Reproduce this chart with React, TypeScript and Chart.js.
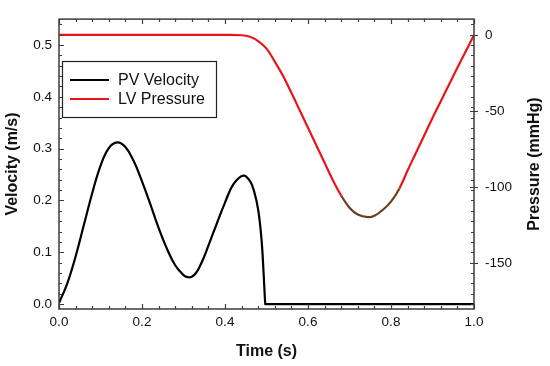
import React, { useEffect, useRef } from "react";
import { Chart, registerables } from "chart.js";

Chart.register(...registerables);

const timeV = [0, 0.02, 0.04, 0.06, 0.08, 0.1, 0.12, 0.14, 0.16, 0.18, 0.2, 0.22, 0.24, 0.26, 0.28, 0.3, 0.31, 0.32, 0.33, 0.34, 0.35, 0.36, 0.38, 0.4, 0.42, 0.444, 0.46, 0.47, 0.48, 0.488, 0.493, 0.497, 0.498, 0.52, 0.6, 0.7, 0.8, 0.9, 1.0];
const velocity = [0.002, 0.04, 0.092, 0.153, 0.214, 0.267, 0.301, 0.312, 0.303, 0.276, 0.237, 0.193, 0.147, 0.107, 0.075, 0.056, 0.052, 0.053, 0.06, 0.074, 0.092, 0.113, 0.155, 0.196, 0.231, 0.248, 0.238, 0.218, 0.182, 0.125, 0.06, 0.0, 0.0, 0.0, 0.0, 0.0, 0.0, 0.0, 0.0];

const timeP = [0, 0.1, 0.2, 0.3, 0.4, 0.44, 0.46, 0.48, 0.5, 0.52, 0.54, 0.56, 0.58, 0.6, 0.62, 0.64, 0.66, 0.68, 0.7, 0.72, 0.745, 0.76, 0.78, 0.8, 0.82, 0.84, 0.86, 0.88, 0.9, 0.92, 0.94, 0.96, 0.98, 1.0];
const pressure = [0, 0, 0, 0, 0, -0.2, -1.2, -4, -9, -17.5, -27, -38, -49.5, -61, -72.5, -84, -95.5, -105.5, -113.5, -118, -119.7, -118.8, -115, -109.5, -101, -89, -77.5, -66, -54.5, -43.5, -32.5, -21.5, -10.8, 0];

const xTicks = [0, 0.2, 0.4, 0.6, 0.8, 1.0];
const seriesLabels = ["PV Velocity", "LV Pressure"];
const seriesColors = ["#000000", "#e8161b"];
const axisTitles = ["Time (s)", "Velocity (m/s)", "Pressure (mmHg)"];

const FONT = "'Liberation Sans', Arial, sans-serif";
const FRAME = "#3c3c3c";

const decorPlugin = {
  id: "decor",
  afterDatasetsDraw(chart: any) {
    const { ctx, chartArea: a, scales } = chart;
    const x = scales.x, y = scales.y, y2 = scales.y2;
    ctx.save();
    ctx.strokeStyle = FRAME;
    ctx.lineWidth = 1.5;
    ctx.strokeRect(a.left, a.top, a.right - a.left, a.bottom - a.top);
    ctx.lineWidth = 1.2;
    ctx.beginPath();
    for (let i = 0; i <= 25; i++) {
      const v = i * 0.04;
      const px = Math.round(x.getPixelForValue(v)) + 0.5;
      const major = i % 5 === 0;
      const len = major ? 5 : 3;
      ctx.moveTo(px, a.bottom); ctx.lineTo(px, a.bottom - len);
      ctx.moveTo(px, a.top); ctx.lineTo(px, a.top + len);
    }
    for (let i = 0; i <= 27; i++) {
      const v = i * 0.02;
      const py = Math.round(y.getPixelForValue(v)) + 0.5;
      if (py < a.top || py > a.bottom) continue;
      const major = i % 5 === 0;
      const len = major ? 5 : 3;
      ctx.moveTo(a.left, py); ctx.lineTo(a.left + len, py);
      ctx.moveTo(a.right, py); ctx.lineTo(a.right - 3, py);
    }
    for (const v of [0, -50, -100, -150]) {
      const py = Math.round(y2.getPixelForValue(v)) + 0.5;
      ctx.moveTo(a.right - 4, py); ctx.lineTo(a.right + 4, py);
    }
    ctx.stroke();

    ctx.fillStyle = "#111";
    ctx.font = `bold 16px ${FONT}`;
    ctx.textAlign = "center";
    ctx.textBaseline = "middle";
    ctx.fillText(axisTitles[0], (a.left + a.right) / 2, 352);
    const cy = (a.top + a.bottom) / 2;
    ctx.save();
    ctx.translate(13, cy);
    ctx.rotate(-Math.PI / 2);
    ctx.fillText(axisTitles[1], 0, 0);
    ctx.restore();
    ctx.save();
    ctx.translate(534.5, cy);
    ctx.rotate(-Math.PI / 2);
    ctx.fillText(axisTitles[2], 0, 0);
    ctx.restore();

    ctx.fillStyle = "#ffffff";
    ctx.fillRect(62.5, 61.5, 154, 56);
    ctx.strokeStyle = "#222";
    ctx.lineWidth = 1.2;
    ctx.strokeRect(62.5, 61.5, 154, 56);
    ctx.font = `16px ${FONT}`;
    ctx.textAlign = "left";
    ctx.textBaseline = "middle";
    chart.data.datasets.forEach((ds: any, i: number) => {
      const ly = 80 + i * 19;
      ctx.strokeStyle = seriesColors[i];
      ctx.lineWidth = 2.2;
      ctx.beginPath();
      ctx.moveTo(70, ly);
      ctx.lineTo(109, ly);
      ctx.stroke();
      ctx.fillStyle = "#111";
      ctx.fillText(ds.label, 118, ly + 1);
    });
    ctx.restore();
  },
};

export default function App() {
  const ref = useRef<HTMLCanvasElement | null>(null);
  useEffect(() => {
    document.body.style.margin = "0";
    const tickFont = { family: FONT, size: 13.5 };
    const chart = new Chart(ref.current!, {
      type: "line",
      data: {
        datasets: [
          {
            label: seriesLabels[0],
            data: timeV.map((t, i) => ({ x: t, y: velocity[i] })),
            borderColor: seriesColors[0],
            borderWidth: 2.2,
            pointRadius: 0,
            tension: 0.4,
            yAxisID: "y",
          },
          {
            label: seriesLabels[1],
            data: timeP.map((t, i) => ({ x: t, y: pressure[i] })),
            borderColor: seriesColors[1],
            borderWidth: 2.2,
            pointRadius: 0,
            tension: 0.4,
            yAxisID: "y2",
            segment: {
              borderColor: (c: any) =>
                c.p0.parsed.x >= 0.67 && c.p1.parsed.x <= 0.82 ? "#6e3f1c" : undefined,
            },
          },
        ],
      },
      options: {
        animation: false,
        responsive: false,
        layout: { padding: { top: 10 } },
        plugins: { legend: { display: false }, tooltip: { enabled: false } },
        scales: {
          x: {
            type: "linear",
            min: 0,
            max: 1,
            afterBuildTicks: (s: any) => { s.ticks = xTicks.map((v) => ({ value: v })); },
            ticks: { font: tickFont, color: "#111", padding: 5, callback: (v: any) => Number(v).toFixed(1), maxRotation: 0 },
            grid: { display: false, drawTicks: false },
            border: { display: false },
            afterFit: (s: any) => { s.height = 57; },
          },
          y: {
            type: "linear",
            position: "left",
            min: -0.0094,
            max: 0.55,
            ticks: { stepSize: 0.1, includeBounds: false, font: tickFont, color: "#111", padding: 7, callback: (v: any) => Number(v).toFixed(1) },
            grid: { display: false, drawTicks: false },
            border: { display: false },
            afterFit: (s: any) => { s.width = 59; },
          },
          y2: {
            type: "linear",
            position: "right",
            min: -180,
            max: 10.4,
            ticks: { stepSize: 50, includeBounds: false, font: tickFont, color: "#111", padding: 11 },
            grid: { display: false, drawTicks: false },
            border: { display: false },
            afterFit: (s: any) => { s.width = 76; },
          },
        },
      } as any,
      plugins: [decorPlugin],
    });
    return () => chart.destroy();
  }, []);
  return (
    <div style={{ width: 550, height: 366, background: "#fff" }}>
      <canvas ref={ref} width={550} height={366} />
    </div>
  );
}
